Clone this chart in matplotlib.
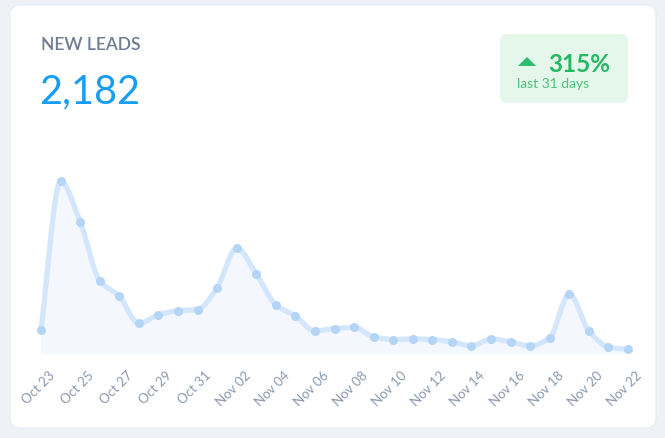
import numpy as np
import matplotlib.pyplot as plt
import matplotlib.transforms as mtransforms
from matplotlib.path import Path
from matplotlib.patches import PathPatch, FancyBboxPatch, Polygon

# daily new leads, Oct 23 - Nov 22
days = ['Oct 23', 'Oct 24', 'Oct 25', 'Oct 26', 'Oct 27', 'Oct 28', 'Oct 29',
        'Oct 30', 'Oct 31', 'Nov 01', 'Nov 02', 'Nov 03', 'Nov 04', 'Nov 05',
        'Nov 06', 'Nov 07', 'Nov 08', 'Nov 09', 'Nov 10', 'Nov 11', 'Nov 12',
        'Nov 13', 'Nov 14', 'Nov 15', 'Nov 16', 'Nov 17', 'Nov 18', 'Nov 19',
        'Nov 20', 'Nov 21', 'Nov 22']
leads = [42, 299, 229, 127, 100, 53, 68, 75, 77, 115, 183, 139, 85, 66, 40, 44,
         46, 30, 25, 26, 25, 21, 14, 26, 21, 14, 28, 104, 40, 12, 8]
tick_labels = days[::2]

title = 'NEW LEADS'
total = '2,182'
change = '315%'
period = 'last 31 days'

W, H = 665, 438


def px(x, y):
    # pixel position from top-left -> figure fraction
    return x / W, (H - y) / H


def monotone_path(x, y):
    # monotone cubic through the points, as bezier segments
    x = np.asarray(x, float)
    y = np.asarray(y, float)
    h = np.diff(x)
    s = np.diff(y) / h
    m = np.zeros_like(y)
    m[0], m[-1] = s[0], s[-1]
    for i in range(1, len(y) - 1):
        if s[i - 1] * s[i] <= 0:
            m[i] = 0
        else:
            m[i] = 2 / (1 / s[i - 1] + 1 / s[i])
    verts = [(x[0], y[0])]
    codes = [Path.MOVETO]
    for i in range(len(x) - 1):
        verts += [(x[i] + h[i] / 3, y[i] + m[i] * h[i] / 3),
                  (x[i + 1] - h[i] / 3, y[i + 1] - m[i + 1] * h[i] / 3),
                  (x[i + 1], y[i + 1])]
        codes += [Path.CURVE4] * 3
    return verts, codes


fig = plt.figure(figsize=(W / 100, H / 100), dpi=100, facecolor='#eef2f7')
ident = mtransforms.IdentityTransform()

card = FancyBboxPatch((10, 10), 646, 423, boxstyle='round,pad=0,rounding_size=10',
                      transform=ident, facecolor='white', edgecolor='#e4eaf1',
                      lw=0.8, zorder=0)
fig.add_artist(card)

badge = FancyBboxPatch((500, H - 103), 128, 69, boxstyle='round,pad=0,rounding_size=7',
                       transform=ident, facecolor='#e5f7eb', edgecolor='none', zorder=1)
fig.add_artist(badge)
tri = Polygon([(518, H - 66), (536, H - 66), (527, H - 57)], closed=True,
              transform=ident, facecolor='#2dbd6e', edgecolor='none', zorder=2)
fig.add_artist(tri)

fig.text(*px(548, 72), change, fontsize=17.5, fontweight='bold',
         family='Lato', color='#27b866', va='baseline')
fig.text(*px(517, 88), period, fontsize=10, family='Lato',
         color='#4cc27a', va='baseline')

fig.text(*px(41, 50), title, fontsize=12.5, fontweight='semibold',
         family='Lato', color='#6e7c91', va='baseline')
fig.text(*px(39, 103), total, fontsize=28.5, fontweight='normal',
         family='Lato', color='#169df5', va='baseline')

# chart area
ax = fig.add_axes([41 / W, 84 / H, 587 / W, 173.2 / H])
ax.set_facecolor('none')
xs = np.arange(len(leads))
ax.set_xlim(0, len(leads) - 1)
ax.set_ylim(0, 300)

verts, codes = monotone_path(xs, leads)
fill_verts = verts + [(xs[-1], 0), (xs[0], 0), verts[0]]
fill_codes = codes + [Path.LINETO, Path.LINETO, Path.CLOSEPOLY]
ax.add_patch(PathPatch(Path(fill_verts, fill_codes), facecolor='#f4f8fe',
                       edgecolor='none', zorder=1))
ax.add_patch(PathPatch(Path(verts, codes), facecolor='none', edgecolor='#d3e6fc',
                       lw=3.8, capstyle='round', joinstyle='round', zorder=2,
                       clip_on=False))
ax.plot(xs, leads, 'o', ms=6.5, color='#b4d5f6', mec='none', zorder=3, clip_on=False)

for sp in ax.spines.values():
    sp.set_visible(False)
ax.set_yticks([])
ax.set_xticks(xs[::2])
ax.set_xticklabels(tick_labels, rotation=45, ha='right', fontsize=9.5,
                   family='Lato', color='#8a99ae')
ax.tick_params(axis='x', length=0, pad=11)
offset = mtransforms.ScaledTranslation(16 / 100, 0, fig.dpi_scale_trans)
for lab in ax.get_xticklabels():
    lab.set_transform(lab.get_transform() + offset)

fig.savefig('out.png', dpi=100, facecolor=fig.get_facecolor())
